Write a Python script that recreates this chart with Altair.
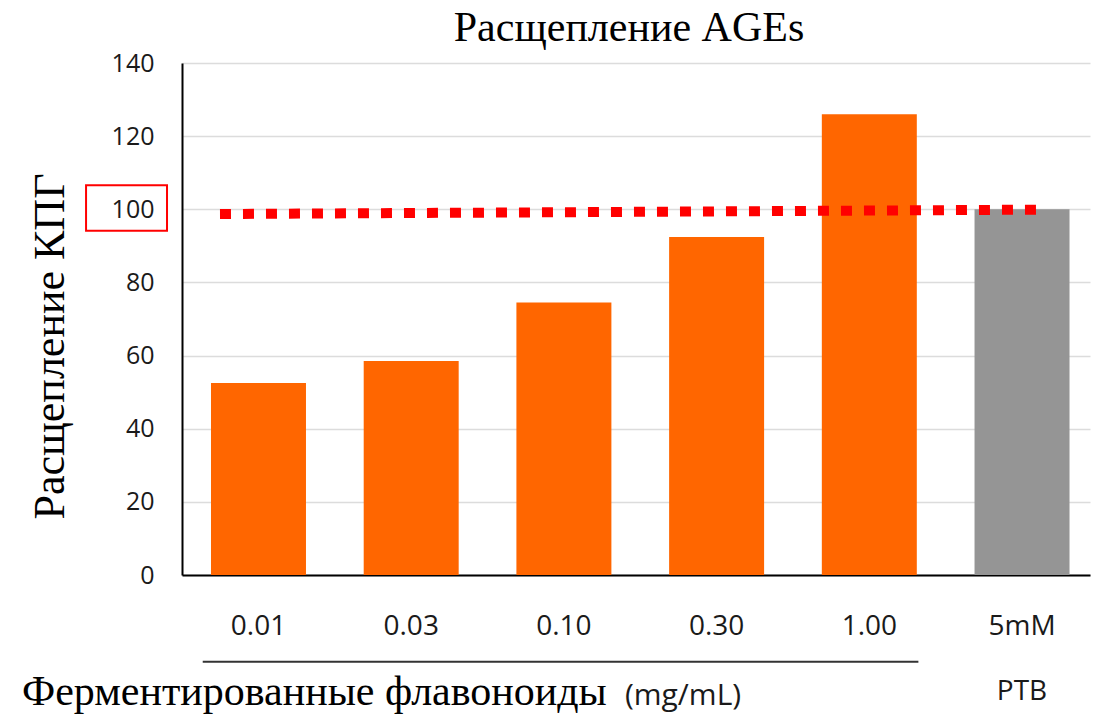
import altair as alt
import pandas as pd

# ---- data ----
categories = ["0.01", "0.03", "0.10", "0.30", "1.00", "5mM"]
values = [52.5, 58.5, 74.5, 92.4, 126.0, 100.0]
groups = ["flav", "flav", "flav", "flav", "flav", "ptb"]

# dotted reference line (x in band units 0..6, y in data units)
line_x = [0.251, 5.67]
line_y = [98.7, 99.9]
# red box around the "100" tick label
box_x = [-0.634, -0.099]
box_y = [94.1, 106.6]
# bracket underline beneath the concentration labels
ul_x = [0.137, 4.866]
ul_y = [-23.7]
# texts below the axis
xtitle_main = "Ферментированные флавоноиды"
xtitle_unit = "(mg/mL)"
xtitle_pos = [(-1.057, -35.6), (2.927, -35.6)]
ptb_label = "PTB"
ptb_y = -31.9

title = "Расщепление AGEs"
ytitle = "Расщепление КПГ"

# ---- scales / axes ----
yscale = alt.Scale(domain=[0, 140], nice=False, zero=True)
yaxis = alt.Axis(values=[0, 20, 40, 60, 80, 100, 120, 140], ticks=False,
                 labelFont="Open Sans", labelFontSize=25, labelColor="#1a1a1a",
                 labelPadding=28, gridColor="#dcdcdc", gridWidth=1.5,
                 domainColor="#000000", domainWidth=2,
                 titleFont="Liberation Serif", titleFontSize=44,
                 titleFontWeight="normal", titleColor="#000000",
                 titleX=-119, titleY=283, titleBaseline="alphabetic", titleAngle=-90)

def yenc(field):
    return alt.Y(f"{field}:Q", scale=yscale, axis=yaxis, title=ytitle)

xband_scale = alt.Scale(domain=categories, paddingInner=0.378, paddingOuter=0.162, align=0.586)
xband_axis = alt.Axis(labelAngle=0, ticks=False, title=None, grid=False,
                      labelFont="Open Sans", labelFontSize=28, labelColor="#1a1a1a",
                      labelPadding=37, domainColor="#000000", domainWidth=2)

def xband():
    return alt.X("cat:N", sort=categories, scale=xband_scale, axis=xband_axis)

xq_scale = alt.Scale(domain=[0, 6], nice=False, zero=False)

# ---- data frames ----
df_bars = pd.DataFrame({"cat": categories, "y": values, "grp": groups})
df_ptb = pd.DataFrame({"cat": ["5mM"], "y": [ptb_y], "t": [ptb_label]})
df_line = pd.DataFrame({"xq": line_x, "y": line_y})
df_box = pd.DataFrame({"xq": [box_x[0]], "xq2": [box_x[1]], "y": [box_y[0]], "y2": [box_y[1]]})
df_ul = pd.DataFrame({"xq": [ul_x[0]], "xq2": [ul_x[1]], "y": ul_y})
df_t1 = pd.DataFrame({"xq": [xtitle_pos[0][0]], "y": [xtitle_pos[0][1]], "t": [xtitle_main]})
df_t2 = pd.DataFrame({"xq": [xtitle_pos[1][0]], "y": [xtitle_pos[1][1]], "t": [xtitle_unit]})

bars = alt.Chart(df_bars).mark_bar().encode(
    x=xband(), y=yenc("y"),
    color=alt.Color("grp:N", scale=alt.Scale(domain=["flav", "ptb"], range=["#ff6600", "#959595"]), legend=None),
)
ptb = alt.Chart(df_ptb).mark_text(font="Open Sans", fontSize=28, color="#1a1a1a",
                                  baseline="middle", align="center").encode(
    x=xband(), y=yenc("y"), text="t:N")

band_layer = alt.layer(bars, ptb)

xq = alt.X("xq:Q", scale=xq_scale, axis=None)
dots = alt.Chart(df_line).mark_line(color="#ff0000", strokeWidth=10, strokeDash=[11, 12],
                                    strokeCap="butt").encode(x=xq, y=yenc("y"))
box = alt.Chart(df_box).mark_rect(fillOpacity=0, stroke="#ff0000", strokeWidth=2).encode(
    x=xq, x2="xq2:Q", y=yenc("y"), y2="y2:Q")
ul = alt.Chart(df_ul).mark_rule(color="#333333", strokeWidth=2).encode(
    x=xq, x2="xq2:Q", y=yenc("y"))
t1 = alt.Chart(df_t1).mark_text(font="Liberation Serif", fontSize=42, color="#000000",
                                align="left", baseline="alphabetic").encode(x=xq, y=yenc("y"), text="t:N")
t2 = alt.Chart(df_t2).mark_text(font="Open Sans", fontSize=30, color="#1a1a1a",
                                align="left", baseline="alphabetic").encode(x=xq, y=yenc("y"), text="t:N")

anno_layer = alt.layer(dots, box, ul, t1, t2)

chart = alt.layer(band_layer, anno_layer).resolve_scale(x="independent").properties(
    width=908, height=512,
    title=alt.TitleParams(title, font="Liberation Serif", fontSize=42, fontWeight="normal",
                          color="#000000", anchor="middle", offset=1, dx=-7),
    autosize=alt.AutoSizeParams(type="none"),
    padding={"left": 174, "top": 55, "right": 5, "bottom": 139},
).configure_view(stroke=None).configure_axisX(grid=False)

chart.save("out.html", embed_options={"renderer": "svg", "actions": False})
